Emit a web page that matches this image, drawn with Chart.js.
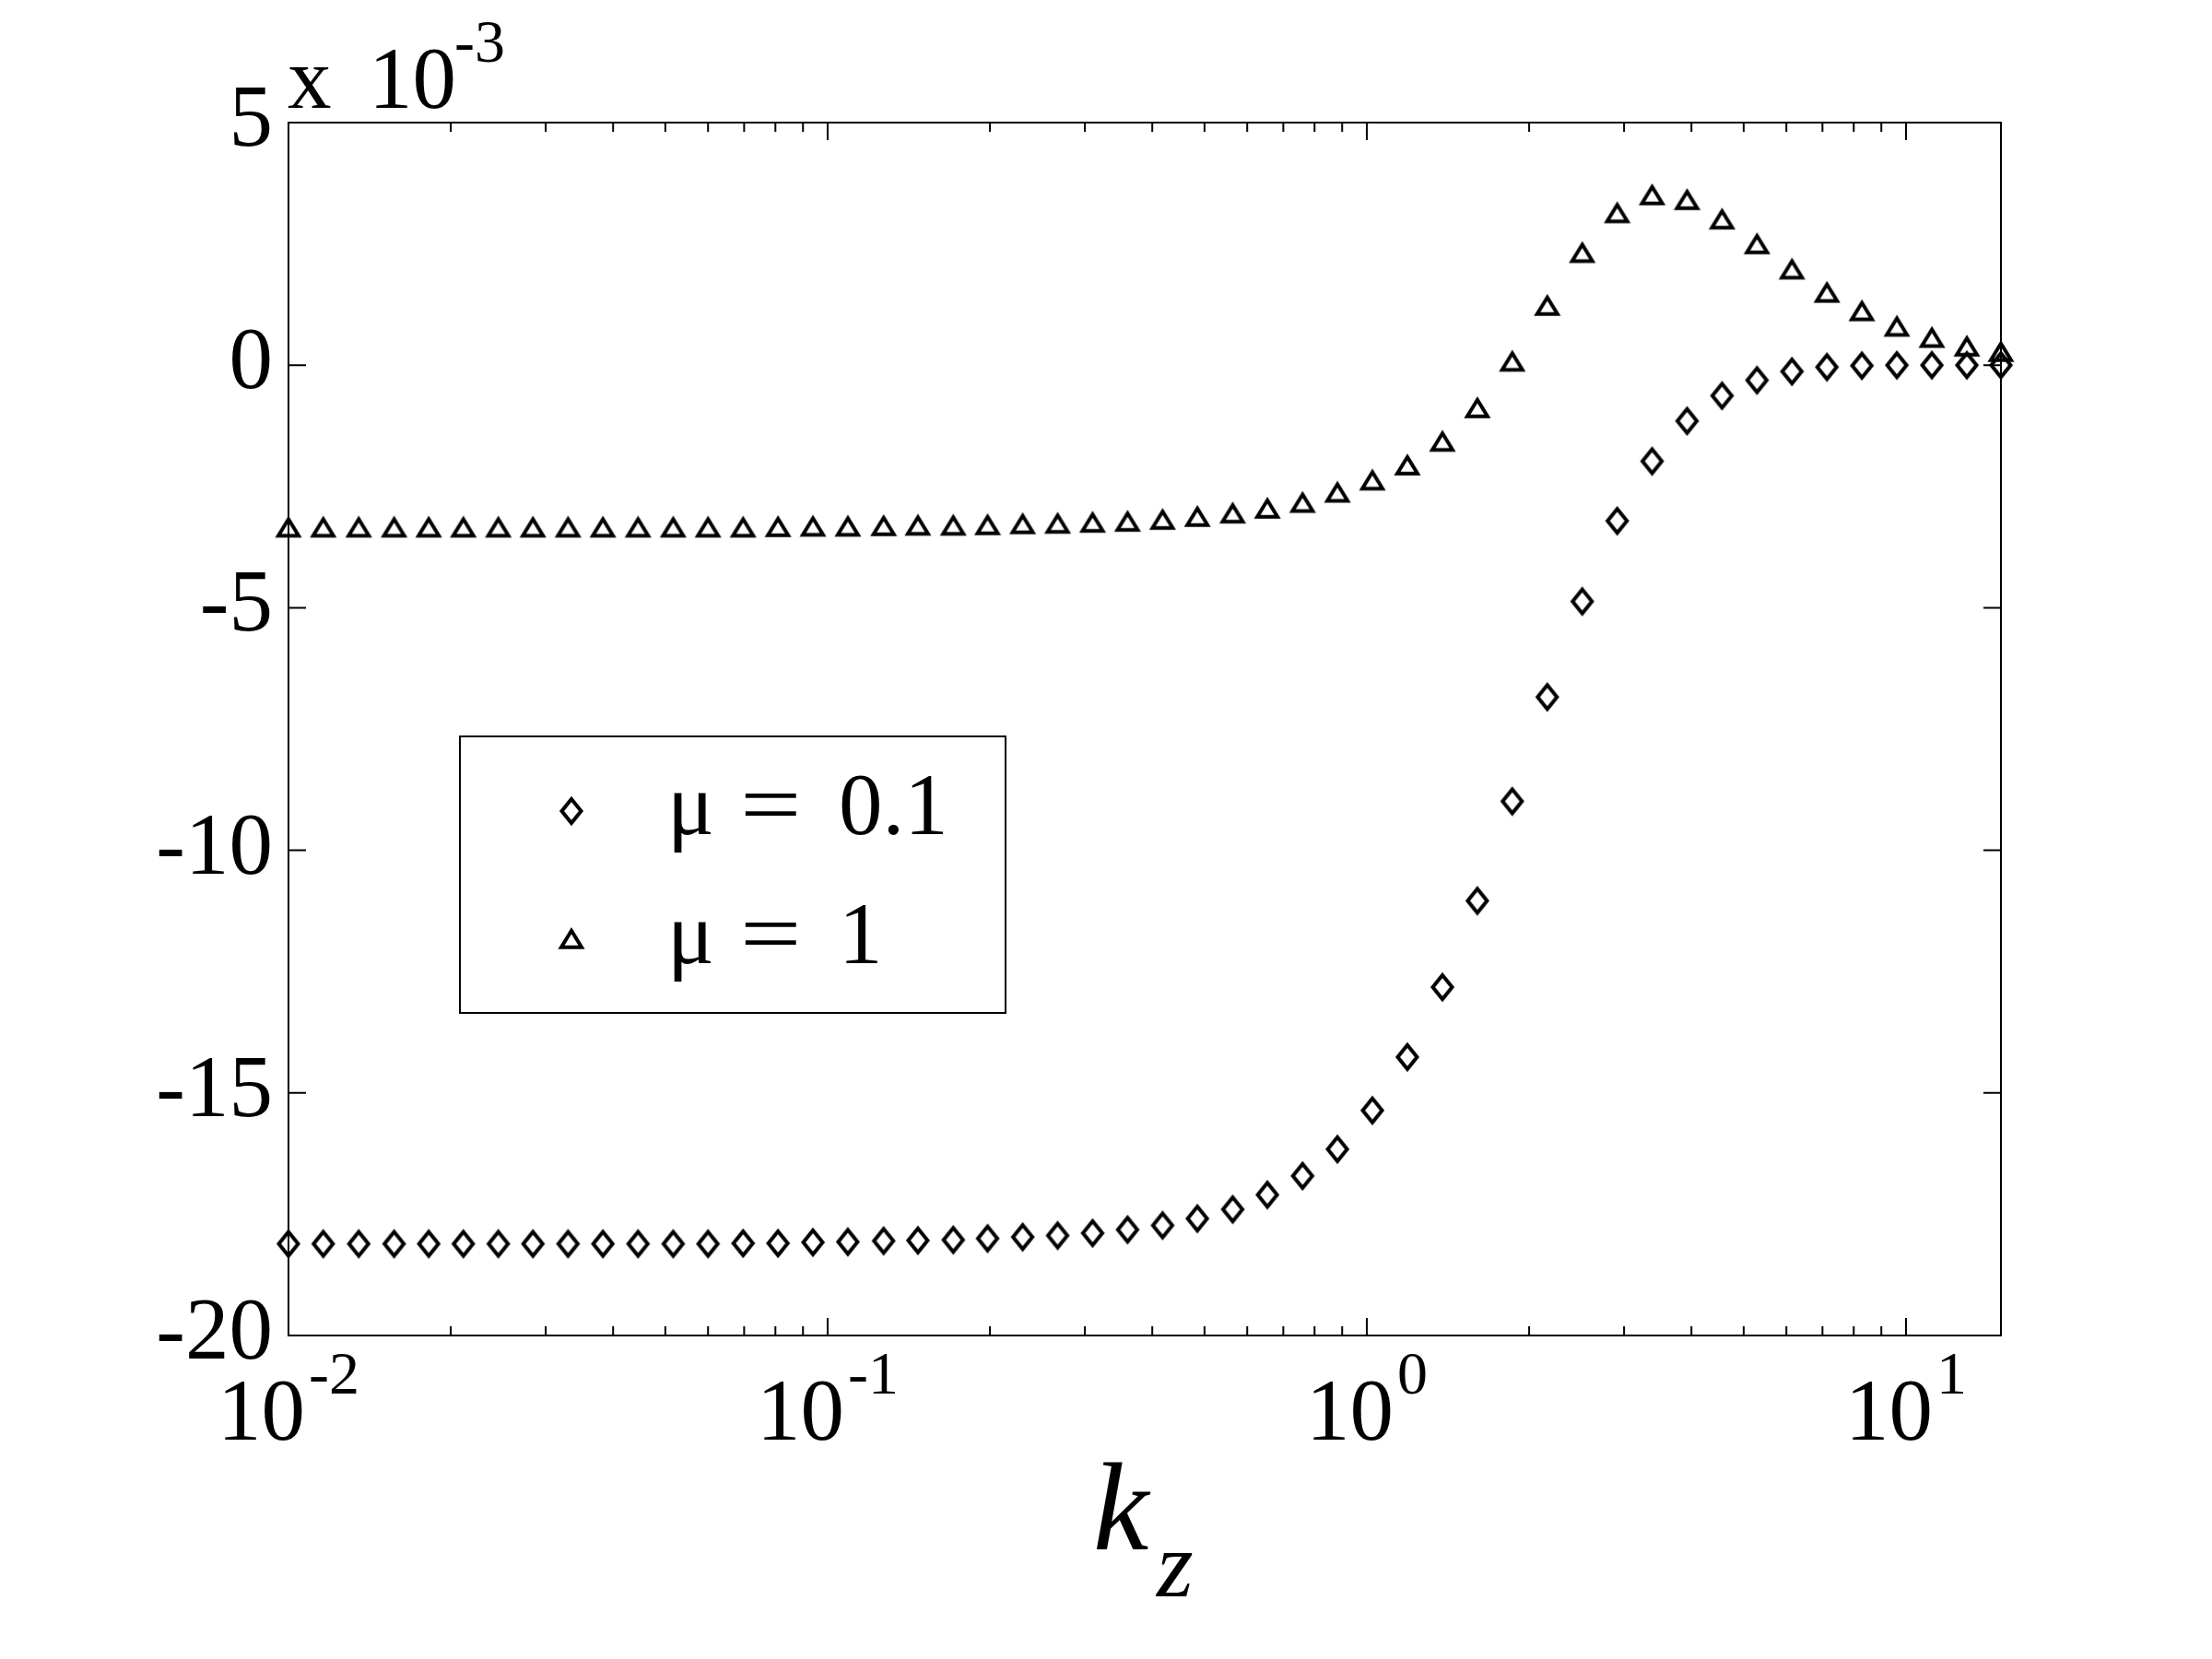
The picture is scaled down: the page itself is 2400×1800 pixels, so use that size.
<!DOCTYPE html>
<html>
<head>
<meta charset="utf-8">
<title>k_z</title>
<script src="https://cdn.jsdelivr.net/npm/chart.js@4.4.1/dist/chart.umd.min.js"></script>
<style>
  body { margin: 0; background: #fff; }
  #chart { display: block; }
</style>
</head>
<body>
<canvas id="chart" width="2400" height="1800"></canvas>
<script>
// k_z values (log spaced, 50 points)
var kz = [
  0.01, 0.0116, 0.0135, 0.0157, 0.0182, 0.0211, 0.0245, 0.0284, 0.0330, 0.0383,
  0.0445, 0.0517, 0.0600, 0.0697, 0.0809, 0.0939, 0.109, 0.127, 0.147, 0.171,
  0.198, 0.230, 0.267, 0.310, 0.360, 0.418, 0.485, 0.564, 0.654, 0.760,
  0.882, 1.024, 1.189, 1.381, 1.603, 1.861, 2.161, 2.509, 2.913, 3.382,
  3.926, 4.559, 5.293, 6.145, 7.135, 8.284, 9.618, 11.17, 12.97, 15.0
]

// values in units of 10^-3
var mu01 = [
  -18.11, -18.11, -18.11, -18.11, -18.11, -18.11, -18.11, -18.11, -18.11, -18.11,
  -18.11, -18.11, -18.11, -18.10, -18.10, -18.08, -18.07, -18.05, -18.04, -18.03,
  -18.00, -17.97, -17.94, -17.89, -17.82, -17.73, -17.59, -17.40, -17.10, -16.71,
  -16.16, -15.36, -14.26, -12.82, -11.04, -8.99, -6.84, -4.87, -3.21, -1.98,
  -1.15, -0.63, -0.31, -0.13, -0.04, -0.01, 0, 0, 0, 0
]

var mu1 = [
  -3.33, -3.33, -3.33, -3.33, -3.33, -3.33, -3.33, -3.33, -3.33, -3.33,
  -3.33, -3.33, -3.33, -3.33, -3.32, -3.31, -3.31, -3.30, -3.29, -3.29,
  -3.28, -3.26, -3.25, -3.23, -3.21, -3.17, -3.11, -3.04, -2.94, -2.82,
  -2.61, -2.36, -2.05, -1.56, -0.87, 0.09, 1.24, 2.33, 3.15, 3.52,
  3.42, 3.02, 2.51, 1.99, 1.51, 1.13, 0.81, 0.58, 0.40, 0.29
]

var seriesLabels = ['μ = 0.1', 'μ = 1']

// axis ticks
var xMajorTicks = [0.01, 0.1, 1, 10]
var xTickExponents = ['-2', '-1', '0', '1']
var xMinorTicks = [
  0.02, 0.03, 0.04, 0.05, 0.06, 0.07, 0.08, 0.09,
  0.2, 0.3, 0.4, 0.5, 0.6, 0.7, 0.8, 0.9,
  2, 3, 4, 5, 6, 7, 8, 9
]
var yTicks = [-20, -15, -10, -5, 0, 5]

var serif = "'Liberation Serif', 'DejaVu Serif', serif"

function diamondMarker() {
  var c = document.createElement('canvas')
  c.width = 34
  c.height = 40
  var g = c.getContext('2d')
  g.strokeStyle = '#000'
  g.lineWidth = 4
  g.beginPath()
  g.moveTo(17, 7)
  g.lineTo(27.5, 20)
  g.lineTo(17, 33)
  g.lineTo(6.5, 20)
  g.closePath()
  g.stroke()
  return c
}

function triangleMarker() {
  var c = document.createElement('canvas')
  c.width = 36
  c.height = 36
  var g = c.getContext('2d')
  g.strokeStyle = '#000'
  g.lineWidth = 4
  g.beginPath()
  g.moveTo(18, 9.8)
  g.lineTo(29, 27.8)
  g.lineTo(7, 27.8)
  g.closePath()
  g.stroke()
  return c
}

function toPoints(ys) {
  var pts = []
  for (var i = 0; i < kz.length; i++)
    pts.push({ x: kz[i], y: ys[i] })
  return pts
}

var frame = {
  id: 'frame',
  beforeDraw: function (chart) {
    var c = chart.ctx
    c.save()
    c.fillStyle = '#fff'
    c.fillRect(0, 0, chart.width, chart.height)
    c.restore()
  },
  beforeDatasetsDraw: function (chart) {
    var c = chart.ctx
    var a = chart.chartArea
    var xs = chart.scales.x
    var ys = chart.scales.y
    c.save()
    c.strokeStyle = '#000'
    c.lineWidth = 2
    c.beginPath()

    // inward ticks on all four sides
    yTicks.forEach(function (v) {
      var p = ys.getPixelForValue(v)
      c.moveTo(a.left, p); c.lineTo(a.left + 19, p)
      c.moveTo(a.right, p); c.lineTo(a.right - 19, p)
    })
    xMajorTicks.forEach(function (v) {
      var p = xs.getPixelForValue(v)
      c.moveTo(p, a.bottom); c.lineTo(p, a.bottom - 19)
      c.moveTo(p, a.top); c.lineTo(p, a.top + 19)
    })
    xMinorTicks.forEach(function (v) {
      var p = xs.getPixelForValue(v)
      c.moveTo(p, a.bottom); c.lineTo(p, a.bottom - 10)
      c.moveTo(p, a.top); c.lineTo(p, a.top + 10)
    })
    c.stroke()
    c.strokeRect(a.left, a.top, a.right - a.left, a.bottom - a.top)
    c.restore()
  },
  afterDraw: function (chart) {
    var c = chart.ctx
    var a = chart.chartArea
    var xs = chart.scales.x
    c.save()
    c.fillStyle = '#000'
    c.textAlign = 'left'
    c.textBaseline = 'alphabetic'

    // x tick labels 10^n
    xMajorTicks.forEach(function (v, i) {
      var p = xs.getPixelForValue(v)
      c.font = '95px ' + serif
      var wb = c.measureText('10').width
      c.font = '66px ' + serif
      var we = c.measureText(xTickExponents[i]).width
      var x0 = p - (wb + 4 + we) / 2
      c.font = '95px ' + serif
      c.fillText('10', x0, a.bottom + 113)
      c.font = '66px ' + serif
      c.fillText(xTickExponents[i], x0 + wb + 4, a.bottom + 63)
    })

    // y multiplier
    c.font = '95px ' + serif
    c.fillText('x', 312, a.top - 16)
    c.fillText('10', 400, a.top - 16)
    c.font = '66px ' + serif
    c.fillText('-3', 493, a.top - 66)

    // x label k_z
    c.font = 'italic 136px ' + serif
    c.fillText('k', 1186, 1681)
    c.font = 'italic 102px ' + serif
    c.fillText('z', 1255, 1732)

    // legend
    c.lineWidth = 2
    c.strokeStyle = '#000'
    c.strokeRect(499, 799, 592, 300)
    var rows = [880, 1018]
    var base = [905, 1045]
    chart.data.datasets.forEach(function (ds, i) {
      var m = ds.pointStyle
      c.drawImage(m, 620 - m.width / 2, rows[i] - m.height / 2)
      var parts = ds.label.split(' = ')
      c.font = '95px ' + serif
      c.fillText(parts[0], 724, base[i])
      // wider equals sign, like the TeX one
      c.save()
      c.translate(803, base[i])
      c.scale(1.24, 1)
      c.fillText('=', 0, 0)
      c.restore()
      c.fillText(parts[1], 910, base[i])
    })
    c.restore()
  }
}

var ctx = document.getElementById('chart').getContext('2d')

var chart = new Chart(ctx, {
  type: 'scatter',
  data: {
    datasets: [{
      label: seriesLabels[0],
      data: toPoints(mu01),
      pointStyle: diamondMarker(),
      pointRadius: 15,
      showLine: false,
      clip: false
    }, {
      label: seriesLabels[1],
      data: toPoints(mu1),
      pointStyle: triangleMarker(),
      pointRadius: 15,
      showLine: false,
      clip: false
    }]
  },
  options: {
    responsive: false,
    animation: false,
    events: [],
    devicePixelRatio: 1,
    layout: {
      padding: { top: 133, right: 229, left: 0, bottom: 0 }
    },
    plugins: {
      legend: { display: false },
      tooltip: { enabled: false }
    },
    scales: {
      x: {
        type: 'logarithmic',
        min: 0.01,
        max: 15,
        grid: { display: false, drawTicks: false },
        border: { display: false },
        ticks: { display: false },
        afterFit: function (scale) { scale.height = 351 }
      },
      y: {
        type: 'linear',
        min: -20,
        max: 5,
        grid: { display: false, drawTicks: false },
        border: { display: false },
        ticks: {
          stepSize: 5,
          padding: 17,
          color: '#000',
          font: { family: serif, size: 95 },
          callback: function (v) { return String(v) }
        },
        afterFit: function (scale) { scale.width = 313 }
      }
    }
  },
  plugins: [frame]
})
</script>
</body>
</html>
